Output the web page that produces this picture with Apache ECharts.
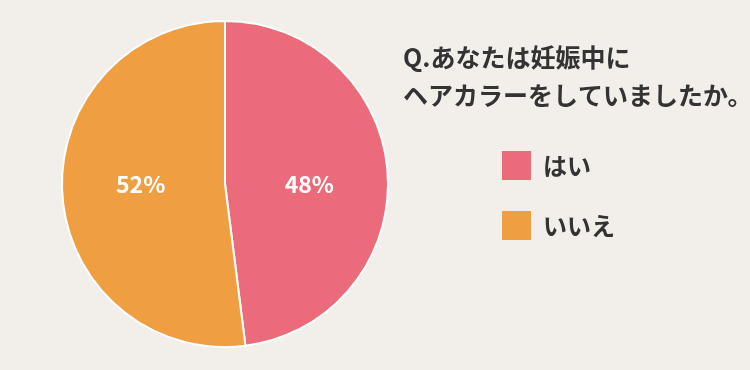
<!DOCTYPE html>
<html><head><meta charset="utf-8">
<script src="https://cdn.jsdelivr.net/npm/echarts@6/dist/echarts.min.js"></script>
<style>html,body{margin:0;padding:0;background:#f2eeea;}#c{width:750px;height:370px;}</style>
</head><body><div id="c"></div>
<script>
const categories = ['はい', 'いいえ'];
const values = [48, 52];
const colors = ['#ec6b7b', '#f09e42'];
const titleText = 'Q.あなたは妊娠中に\nヘアカラーをしていましたか。';

const pieCenter = [225, 184];
const chart = echarts.init(document.getElementById('c'));
chart.setOption({
  backgroundColor: '#f2eeea',
  animation: false,
  title: {
    text: titleText, left: 398, top: 33,
    textStyle: { fontFamily: 'Noto Sans CJK JP', fontWeight: 'bold', fontSize: 25, color: '#333333', lineHeight: 38 }
  },
  legend: {
    orient: 'vertical', left: 497, top: 146, itemWidth: 29, itemHeight: 29, itemGap: 31,
    icon: 'rect', data: categories,
    itemStyle: { borderWidth: 0 },
    textStyle: { fontFamily: 'Noto Sans CJK JP', fontWeight: 'bold', fontSize: 24, color: '#333333', padding: [0,0,0,7] }
  },
  series: [{
    type: 'pie', center: pieCenter, radius: 163, startAngle: 90, clockwise: true,
    label: { position: 'inside', formatter: '{c}%', color: '#fff', fontSize: 23, fontWeight: 'bold', fontFamily: 'Noto Sans CJK JP' },
    labelLayout: function (p) { return { y: pieCenter[1] + p.labelRect.height / 2 - p.labelRect.height / 2, verticalAlign: 'middle' }; },
    labelLine: { show: false },
    itemStyle: { borderColor: '#ffffff', borderWidth: 2 },
    emphasis: { disabled: true },
    data: categories.map((n, i) => ({ name: n, value: values[i], itemStyle: { color: colors[i] } }))
  }]
});
</script></body></html>
